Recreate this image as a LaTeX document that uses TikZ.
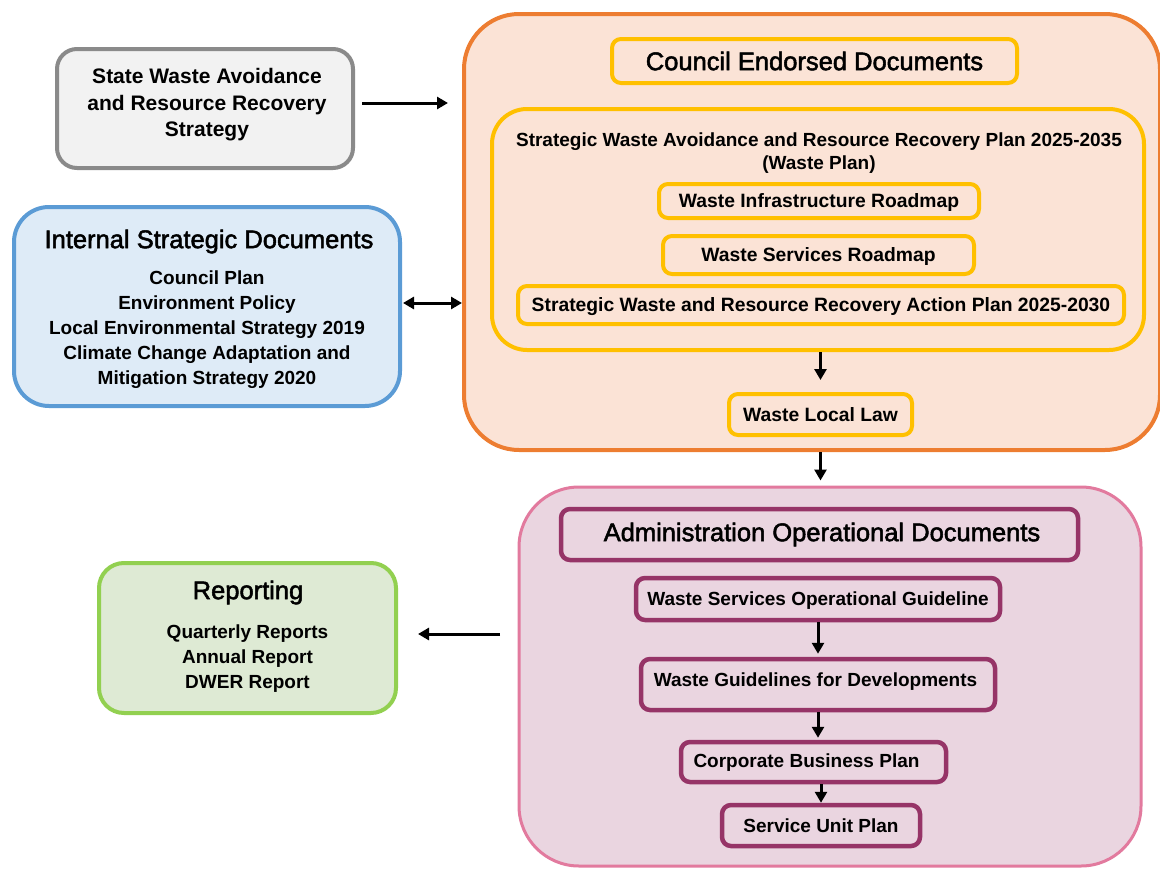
\documentclass[tikz,border=0pt]{standalone}
\usepackage{fontspec}
\setmainfont{Liberation Sans}
\newfontfamily\titlefont{Liberation Sans}[BoldFont=Liberation Sans, BoldFeatures={FakeBold=2}]
\usetikzlibrary{arrows.meta}
\definecolor{grayline}{HTML}{8A8A8A}
\definecolor{grayfill}{HTML}{F2F2F2}
\definecolor{blueline}{HTML}{5B9BD5}
\definecolor{bluefill}{HTML}{DEEBF7}
\definecolor{orangeline}{HTML}{ED7D31}
\definecolor{orangefill}{HTML}{FBE3D6}
\definecolor{yellowline}{HTML}{FFC000}
\definecolor{pinkline}{HTML}{E27A9E}
\definecolor{pinkfill}{HTML}{EAD5E0}
\definecolor{plumline}{HTML}{963467}
\definecolor{greenline}{HTML}{92D050}
\definecolor{greenfill}{HTML}{DEEAD4}
\begin{document}
\begin{tikzpicture}[x=1pt,y=-1pt,
  box/.style={draw, rectangle, inner sep=0pt, align=center},
  body/.style={font=\fontsize{19}{25}\selectfont\bfseries, align=center, inner sep=0pt},
  cbody/.style={font=\fontsize{19.3}{23}\selectfont\bfseries, align=center, inner sep=0pt},
  title/.style={font=\titlefont\bfseries\fontsize{25.5}{30}\selectfont, align=center, inner sep=0pt},
  capline/.style={text height=13.7pt, text depth=0pt},
  captitle/.style={text height=18.3pt, text depth=0pt},
  yel/.style={box, draw=yellowline, line width=4pt, rounded corners=9pt},
  plum/.style={box, draw=plumline, line width=4.5pt, rounded corners=9pt},
  arr/.style={line width=3pt, -{Triangle[length=11pt,width=12pt]}},
  darr/.style={line width=3pt, {Triangle[length=11pt,width=12pt]}-{Triangle[length=11pt,width=12pt]}}
]
\useasboundingbox (0,0) rectangle (1160,870);

% State strategy
\node[box, draw=grayline, fill=grayfill, line width=4pt, rounded corners=20pt,
      minimum width=296pt, minimum height=119pt] (state) at (205,108.5) {};
\node[body, font=\fontsize{21}{26.5}\selectfont\bfseries] (statetxt) at (207,105) {State Waste Avoidance\\and Resource Recovery\\Strategy};

% Internal strategic documents
\node[box, draw=blueline, fill=bluefill, line width=4pt, rounded corners=35pt,
      minimum width=386pt, minimum height=199pt] (internal) at (207,306.5) {};
\node[title, captitle] (inttitle) at (209,239) {Internal Strategic Documents};
\node[body] (intlist) at (207,330) {Council Plan\\Environment Policy\\Local Environmental Strategy 2019\\Climate Change Adaptation and\\Mitigation Strategy 2020};

% Council endorsed
\node[box, draw=orangeline, fill=orangefill, line width=4pt, rounded corners=55pt,
      minimum width=696pt, minimum height=436pt] (council) at (812,232) {};
\node[yel, minimum width=405pt, minimum height=44pt, title, captitle] (ctitle) at (814.5,61) {Council Endorsed Documents};
\node[box, draw=yellowline, line width=4pt, rounded corners=35pt,
      minimum width=652pt, minimum height=241pt] (wasteplan) at (818,229.5) {};
\node[cbody, font=\fontsize{19}{23}\selectfont\bfseries] (wptxt) at (819,153.5) {Strategic Waste Avoidance and Resource Recovery Plan 2025-2035\\(Waste Plan)};
\node[yel, minimum width=320pt, minimum height=34pt, cbody, capline] (wir) at (819,201) {Waste Infrastructure Roadmap};
\node[yel, minimum width=311pt, minimum height=38pt, cbody, capline] (wsr) at (818.5,255) {Waste Services Roadmap};
\node[yel, minimum width=606pt, minimum height=38pt, cbody, capline] (action) at (821,305) {Strategic Waste and Resource Recovery Action Plan 2025-2030};
\node[yel, minimum width=183pt, minimum height=41pt, cbody, capline] (wll) at (820.5,414.5) {Waste Local Law};

% Administration operational
\node[box, draw=pinkline, fill=pinkfill, line width=3pt, rounded corners=60pt,
      minimum width=622pt, minimum height=379pt] (admin) at (830,676.5) {};
\node[plum, minimum width=517pt, minimum height=51pt] (atitle) at (819.5,534.5) {};
\node[title, captitle] (atitletxt) at (822,532) {Administration Operational Documents};
\node[plum, minimum width=364pt, minimum height=42pt, body, capline] (wsog) at (818,599) {Waste Services Operational Guideline};
\node[plum, minimum width=354pt, minimum height=51pt] (wgd) at (818,684.5) {};
\node[body, capline] (wgdtxt) at (815.5,680) {Waste Guidelines for Developments};
\node[plum, minimum width=265pt, minimum height=40pt] (cbp) at (813.5,762) {};
\node[body, capline] (cbptxt) at (806.5,761) {Corporate Business Plan};
\node[plum, minimum width=198pt, minimum height=41pt, body, capline] (sup) at (821,825.5) {Service Unit Plan};

% Reporting
\node[box, draw=greenline, fill=greenfill, line width=4pt, rounded corners=25pt,
      minimum width=297pt, minimum height=150pt] (report) at (247.5,638) {};
\node[title, captitle] (reptitle) at (248,590) {Reporting};
\node[body] (replist) at (247.5,658.5) {Quarterly Reports\\Annual Report\\DWER Report};

% Connectors
\coordinate (stateout) at (362,103);
\draw[arr, shorten >=14pt] (stateout) -- (council.west |- stateout);
\coordinate (intout) at (403,303);
\draw[darr] (intout) -- (council.west |- intout);
\draw[arr, shorten >=12pt] (wasteplan.south -| wll.north) -- (wll.north);
\draw[arr, shorten >=5pt] (council.south -| wll.north) -- (admin.north -| wll.north);
\draw[arr, shorten >=3pt] (wsog.south) -- (wgd.north);
\draw[arr, shorten >=2pt] (wgd.south) -- (cbp.north -| wgd.south);
\draw[arr] (cbp.south -| sup.north) -- (sup.north);
\coordinate (adminout) at (500,634);
\draw[arr, shorten >=20pt] (adminout) -- (report.east |- adminout);
\end{tikzpicture}
\end{document}
